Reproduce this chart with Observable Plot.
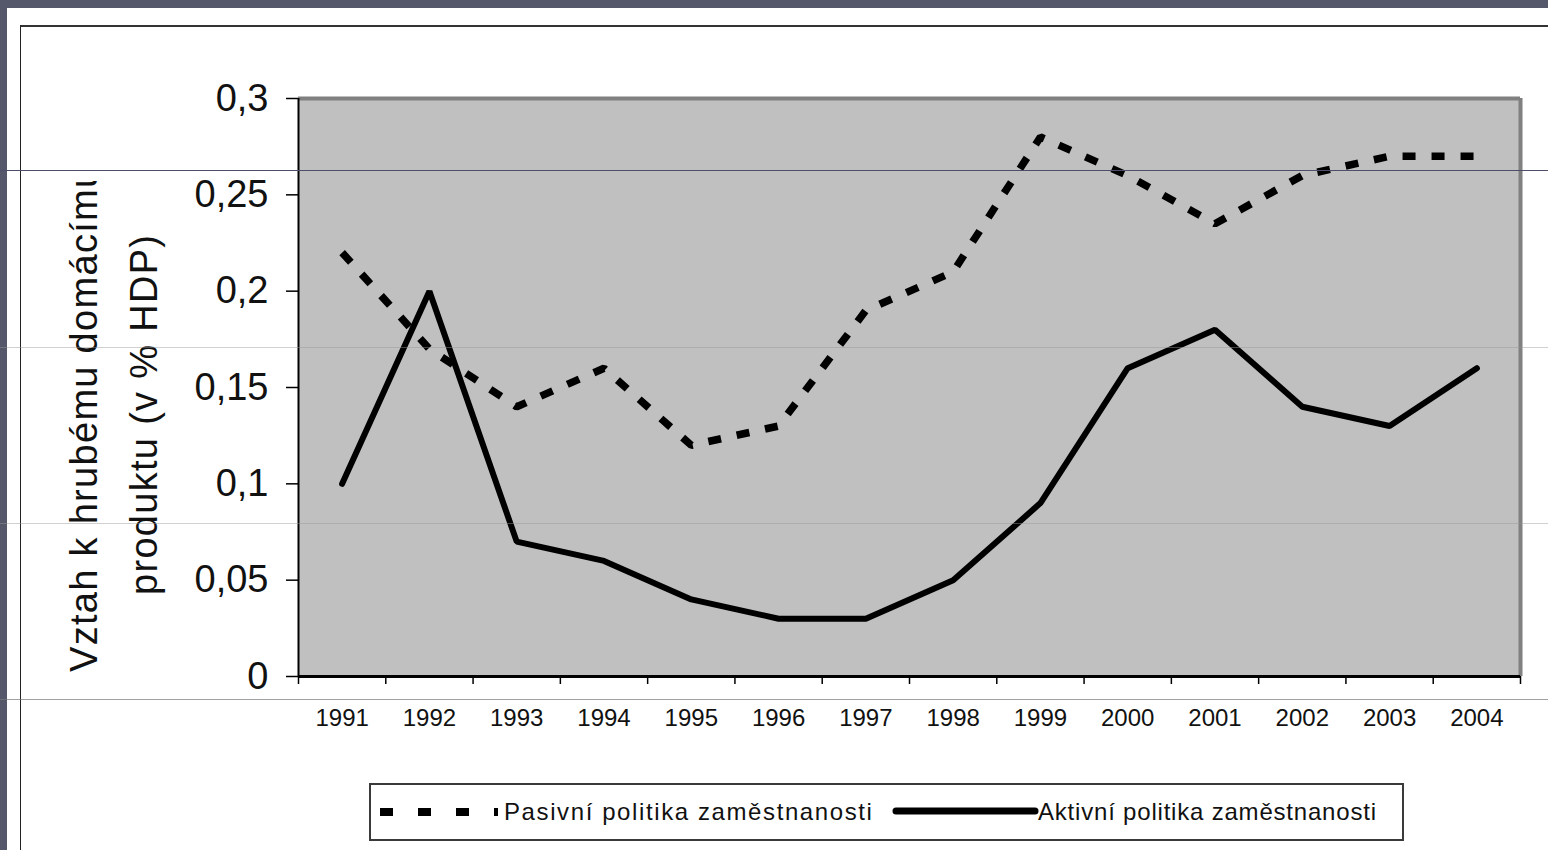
<!DOCTYPE html>
<html><head><meta charset="utf-8">
<script src="https://cdn.jsdelivr.net/npm/d3@7"></script>
<script src="https://cdn.jsdelivr.net/npm/@observablehq/plot@0.6"></script>
<style>
html,body{margin:0;padding:0;}
body{width:1548px;height:850px;overflow:hidden;background:#55586a;position:relative;font-family:"Liberation Sans",Arial,sans-serif;}
#panel{position:absolute;left:7px;top:8px;right:0;bottom:0;background:#fff;}
#frame{position:absolute;left:20px;top:25px;right:-10px;bottom:-10px;border-left:1px solid #222;border-top:2px solid #333;}
#chart{position:absolute;left:0;top:0;}
#ytitle{position:absolute;left:0;top:0;}
.hl{position:absolute;left:0;width:1548px;height:1px;}
#legend{position:absolute;left:369px;top:783px;width:1031px;height:54px;border:2px solid #3a3a3a;background:#fff;}
#legend svg{position:absolute;left:0;top:0;}
</style></head><body>
<div id="panel"></div>
<div id="frame"></div>
<div id="chart"></div>
<svg id="ytitle" width="200" height="720">
  <defs><clipPath id="yclip"><rect x="0" y="181" width="200" height="520"></rect></clipPath></defs>
  <g clip-path="url(#yclip)" font-family="Liberation Sans, Arial, sans-serif" font-size="38" fill="#111" letter-spacing="1.3px">
    <text id="yt1" transform="translate(97,672) rotate(-90)"></text>
    <text id="yt2" transform="translate(157,595) rotate(-90)"></text>
  </g>
</svg>
<div id="legend"></div>
<div class="hl" style="top:170px;background:#4d4f68"></div>
<div class="hl" style="top:347px;background:rgba(150,150,150,0.45)"></div>
<div class="hl" style="top:523px;background:rgba(150,150,150,0.45)"></div>
<div class="hl" style="top:699px;background:rgba(120,120,120,0.7)"></div>
<script>
// ---- data ----
const years = [1991,1992,1993,1994,1995,1996,1997,1998,1999,2000,2001,2002,2003,2004];
const passive = [0.22,0.17,0.14,0.16,0.12,0.13,0.19,0.21,0.28,0.26,0.235,0.26,0.27,0.27];
const active  = [0.10,0.20,0.07,0.06,0.04,0.03,0.03,0.05,0.09,0.16,0.18,0.14,0.13,0.16];
const yTicks = [0,0.05,0.1,0.15,0.2,0.25,0.3];
const yTickLabels = ["0","0,05","0,1","0,15","0,2","0,25","0,3"];
const seriesNames = ["Pasivní politika zaměstnanosti","Aktivní politika zaměstnanosti"];
const yTitleLines = ["Vztah k hrubému domácímu","produktu (v % HDP)"];

const rows = [];
years.forEach((y,i)=>{
  rows.push({year:y, value:passive[i], series:seriesNames[0]});
  rows.push({year:y, value:active[i], series:seriesNames[1]});
});
const bounds = d3.range(years[0]-0.5, years[years.length-1]+1, 1);
const labelOf = new Map(yTicks.map((t,i)=>[t,yTickLabels[i]]));

const plot = Plot.plot({
  width: 1548, height: 740,
  marginLeft: 298, marginRight: 28, marginTop: 98, marginBottom: 64,
  style: {background:"transparent", fontFamily:"Liberation Sans, Arial, sans-serif", color:"#111", overflow:"visible"},
  x: {type:"linear", domain:[bounds[0], bounds[bounds.length-1]], label:null},
  y: {domain:[0,0.3], label:null},
  marks: [
    Plot.frame({fill:"#c0c0c0", stroke:null}),
    Plot.ruleY([yTicks[yTicks.length-1]], {stroke:"#808080", strokeWidth:4}),
    Plot.ruleX([bounds[bounds.length-1]], {stroke:"#808080", strokeWidth:4}),
    Plot.line(rows.filter(d=>d.series===seriesNames[0]), {x:"year", y:"value", stroke:"#000", strokeWidth:7.5, strokeDasharray:"13,16", strokeLinecap:"butt", strokeLinejoin:"miter"}),
    Plot.line(rows.filter(d=>d.series===seriesNames[1]), {x:"year", y:"value", stroke:"#000", strokeWidth:6, strokeLinejoin:"miter"}),
    Plot.ruleX([bounds[0]], {stroke:"#000", strokeWidth:2}),
    Plot.ruleY([0], {stroke:"#000", strokeWidth:3}),
    Plot.axisY(yTicks, {tickSize:12, tickPadding:18, fontSize:38, tickFormat:d=>labelOf.get(d), stroke:"#000", strokeWidth:1.5, label:null}),
    Plot.axisX(bounds, {tickSize:8, tickFormat:()=>"", stroke:"#000", strokeWidth:1.5, label:null}),
    Plot.axisX(years, {tickSize:0, tickPadding:32, fontSize:24, tickFormat:d=>String(d), label:null})
  ]
});
document.getElementById("chart").appendChild(plot);

document.getElementById("yt1").textContent = yTitleLines[0];
document.getElementById("yt2").textContent = yTitleLines[1];

// legend
const lg = d3.select("#legend").append("svg").attr("width",1031).attr("height",54);
lg.append("line").attr("x1",9).attr("x2",127).attr("y1",27).attr("y2",27)
  .attr("stroke","#000").attr("stroke-width",8).attr("stroke-dasharray","13,25");
lg.append("text").attr("x",133).attr("y",35).attr("font-size",24).attr("letter-spacing","1.6px")
  .attr("font-family","Liberation Sans, Arial, sans-serif").attr("fill","#111").text(seriesNames[0]);
lg.append("line").attr("x1",525).attr("x2",664).attr("y1",26).attr("y2",26)
  .attr("stroke","#000").attr("stroke-width",7).attr("stroke-linecap","round");
lg.append("text").attr("x",667).attr("y",35).attr("font-size",24).attr("letter-spacing","0.8px")
  .attr("font-family","Liberation Sans, Arial, sans-serif").attr("fill","#111").text(seriesNames[1]);
</script>
</body></html>
